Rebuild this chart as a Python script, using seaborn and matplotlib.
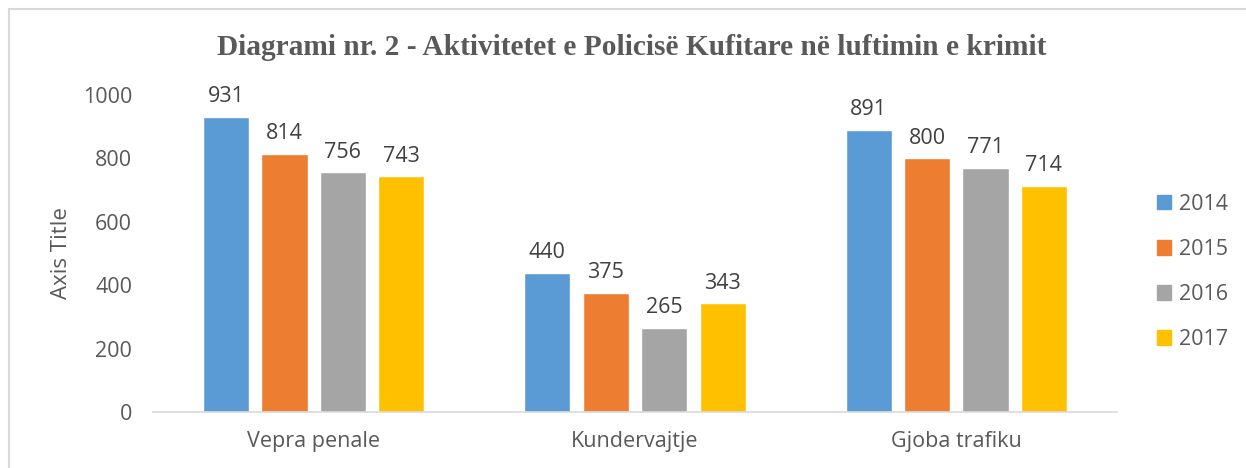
import matplotlib.pyplot as plt
import matplotlib.patches as mpatches
import seaborn as sns
import pandas as pd

# data
categories = ["Vepra penale", "Kundervajtje", "Gjoba trafiku"]
years = ["2014", "2015", "2016", "2017"]
v2014 = [931, 440, 891]
v2015 = [814, 375, 800]
v2016 = [756, 265, 771]
v2017 = [743, 343, 714]
colors = ["#5B9BD5", "#ED7D31", "#A5A5A5", "#FFC000"]

rows = []
for yr, vals in zip(years, [v2014, v2015, v2016, v2017]):
    for c, v in zip(categories, vals):
        rows.append({"cat": c, "year": yr, "val": v})
df = pd.DataFrame(rows)

sns.set_style("white")
plt.rcParams["font.family"] = ["Open Sans", "DejaVu Sans"]
txt = "#595959"

fig = plt.figure(figsize=(12.46, 4.68), dpi=100)
ax = fig.add_axes([153 / 1246, 1 - 412 / 468, 964 / 1246, 317 / 468])

sns.barplot(data=df, x="cat", y="val", hue="year", palette=colors,
            width=0.727, gap=0.21, ax=ax, saturation=1, legend=False)

for cont in ax.containers:
    ax.bar_label(cont, padding=7, fontsize=15.5, color="#404040")

ax.set_ylim(0, 1000)
ax.set_yticks(range(0, 1001, 200))
ax.set_xlim(-0.5, 2.5)
ax.tick_params(axis="both", length=0, labelsize=15.5, colors=txt)
ax.tick_params(axis="y", pad=15)
ax.tick_params(axis="x", pad=14)
ax.set_xlabel("")
ax.set_ylabel("Axis Title", fontsize=16, color=txt, labelpad=8)
for s in ["top", "right", "left"]:
    ax.spines[s].set_visible(False)
ax.spines["bottom"].set_color("#D9D9D9")
ax.spines["bottom"].set_linewidth(1.2)

fig.text(0.507, 0.898, "Diagrami nr. 2 - Aktivitetet e Policisë Kufitare në luftimin e krimit",
         ha="center", va="center", fontsize=21.2, fontweight="bold",
         family="Liberation Serif", color=txt)

handles = [mpatches.Patch(color=c, label=y) for c, y in zip(colors, years)]
fig.legend(handles=handles, loc="center left", bbox_to_anchor=(1157 / 1246, 1 - 272 / 468),
           frameon=False, fontsize=15.5, labelcolor=txt, handlelength=0.65, handleheight=0.65,
           handletextpad=0.35, labelspacing=1.12, borderpad=0, borderaxespad=0)

# outer chart frame
fig.patches.append(mpatches.Rectangle((9 / 1246, -0.1), 1.2, 1 - 9 / 468 + 0.1,
                                      transform=fig.transFigure, fill=False,
                                      edgecolor="#D9D9D9", linewidth=1.5))

fig.savefig("out.png", dpi=100)
